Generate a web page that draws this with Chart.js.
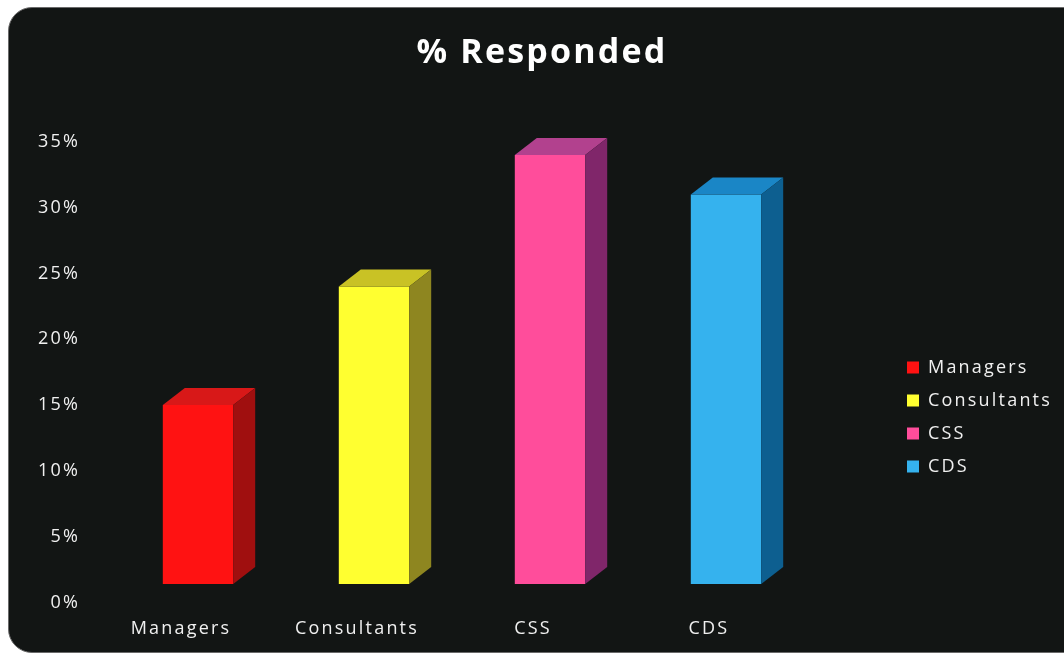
<!DOCTYPE html>
<html>
<head>
<meta charset="utf-8">
<script src="https://cdn.jsdelivr.net/npm/chart.js@4.4.1/dist/chart.umd.min.js"></script>
<style>
  html, body { margin: 0; padding: 0; background: #fff; }
  #panel {
    position: absolute; left: 8px; top: 7px; width: 1100px; height: 644px;
    background: #121514; border: 1px solid #6a6a6a; border-radius: 24px;
  }
  #chart { position: absolute; left: 0; top: 0; }
</style>
</head>
<body>
<div id="panel"></div>
<canvas id="chart" width="1064" height="659"></canvas>
<script>
const categories = ['Managers', 'Consultants', 'CSS', 'CDS'];
const responded = [15, 24, 34, 31];
const yTicks = [0, 5, 10, 15, 20, 25, 30, 35];

const frontColors = ['#ff1212', '#ffff30', '#ff4d9b', '#35b2ee'];
const topColors = ['#d81818', '#c9c225', '#b2418e', '#1a86c6'];
const sideColors = ['#a00f0f', '#8e8620', '#80266a', '#0d5f90'];

// fake 3D: top and side faces drawn next to each bar
const depth = { dx: 22, dy: 17 };
const bar3d = {
  id: 'bar3d',
  afterDatasetsDraw(chart) {
    const ctx = chart.ctx;
    chart.getDatasetMeta(0).data.forEach((bar, i) => {
      const l = bar.x - bar.width / 2, r = bar.x + bar.width / 2;
      const t = bar.y, b = bar.base;
      ctx.save();
      ctx.fillStyle = topColors[i];
      ctx.beginPath();
      ctx.moveTo(l, t); ctx.lineTo(r, t);
      ctx.lineTo(r + depth.dx, t - depth.dy); ctx.lineTo(l + depth.dx, t - depth.dy);
      ctx.closePath(); ctx.fill();
      ctx.fillStyle = sideColors[i];
      ctx.beginPath();
      ctx.moveTo(r, t); ctx.lineTo(r + depth.dx, t - depth.dy);
      ctx.lineTo(r + depth.dx, b - depth.dy); ctx.lineTo(r, b);
      ctx.closePath(); ctx.fill();
      ctx.restore();
    });
  }
};

// wide letter spacing for all chart text
const spacing = {
  id: 'spacing',
  beforeUpdate(chart) { chart.ctx.letterSpacing = '2.2px'; },
  beforeDraw(chart) { chart.ctx.letterSpacing = '2.2px'; }
};

// legend sits in a fixed-width column right of the plot
const legendColumn = {
  id: 'legendColumn',
  beforeLayout(chart) {
    const lg = chart.legend;
    if (lg && !lg._patched) {
      const fit = lg.fit;
      lg.fit = function () { fit.call(this); this.width = 250; };
      lg._patched = true;
    }
  },
  afterLayout(chart) {
    const lg = chart.legend;
    lg.left += 78; lg.right += 78;
    lg.top += 89; lg.bottom += 89;
  }
};

new Chart(document.getElementById('chart'), {
  type: 'bar',
  data: {
    labels: categories,
    datasets: [{
      label: '% Responded',
      data: responded,
      backgroundColor: frontColors,
      base: 1.4,
      barPercentage: 0.4,
      categoryPercentage: 1
    }]
  },
  options: {
    responsive: false,
    animation: false,
    layout: { padding: { left: 20, right: 0, top: 0, bottom: 3 } },
    plugins: {
      title: {
        display: true,
        text: '% Responded',
        color: '#ffffff',
        font: { family: 'Open Sans', size: 34, weight: 'bold' },
        padding: { top: 33, bottom: 68 }
      },
      legend: {
        position: 'right',
        labels: {
          color: '#f0f0f0',
          font: { family: 'Open Sans', size: 18 },
          boxWidth: 12, boxHeight: 12, padding: 15,
          generateLabels: () => categories.map((c, i) => ({
            text: c, fillStyle: frontColors[i], strokeStyle: frontColors[i],
            fontColor: '#f0f0f0', lineWidth: 0, index: i
          }))
        }
      },
      tooltip: { enabled: false }
    },
    scales: {
      x: {
        grid: { display: false, drawTicks: false },
        border: { display: false },
        ticks: {
          color: '#f0f0f0', padding: 16, labelOffset: -17,
          font: { family: 'Open Sans', size: 18 }
        }
      },
      y: {
        min: 0, max: 35,
        afterFit(scale) { scale.width = 90; },
        afterBuildTicks(scale) { scale.ticks = yTicks.map(v => ({ value: v })); },
        grid: { display: false, drawTicks: false },
        border: { display: false },
        ticks: {
          color: '#f0f0f0', padding: 30,
          font: { family: 'Open Sans', size: 18 },
          callback: v => v + '%'
        }
      }
    }
  },
  plugins: [bar3d, spacing, legendColumn]
});
</script>
</body>
</html>
